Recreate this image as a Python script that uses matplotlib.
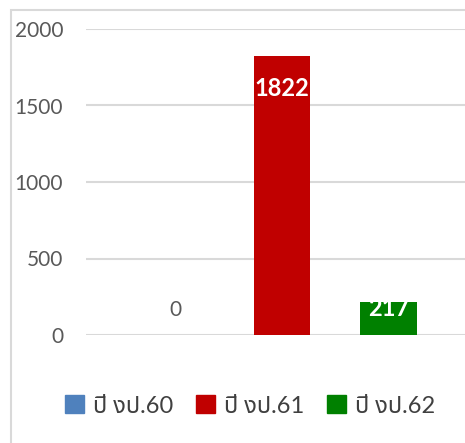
import matplotlib
matplotlib.use("Agg")
import matplotlib.pyplot as plt
from matplotlib.patches import Rectangle
from matplotlib import font_manager
import matplotlib.transforms as mtransforms
import numpy as np

series = ["ปี งป.60", "ปี งป.61", "ปี งป.62"]
values = [0, 1822, 217]
colors = ["#4f81bd", "#c00000", "#008000"]
yticks = [0, 500, 1000, 1500, 2000]

installed = {f.name for f in font_manager.fontManager.ttflist}
thai = [f for f in ['Noto Sans Thai UI', 'Noto Sans Thai', 'IBM Plex Sans Thai', 'Kanit']
        if f in installed]
plt.rcParams['font.family'] = ['Lato'] + thai + ['DejaVu Sans']

W, H = 465, 443
fig = plt.figure(figsize=(W/100, H/100), dpi=100)
fig.patches.append(Rectangle((11/W, -0.1), 1.2, (H-10)/H + 0.1, transform=fig.transFigure,
                             fill=False, edgecolor="#d9d9d9", linewidth=1.5))

ax = fig.add_axes([86/W, (H-335)/H, (478-86)/W, (335-29)/H])
x = np.arange(len(series))
bars = ax.bar(x, values, width=0.53, color=colors, zorder=3)
ax.set_xlim(-0.84, 2.84)
ax.set_ylim(0, 2000)
ax.set_yticks(yticks)
ax.set_yticklabels([str(t) for t in yticks], color="#595959", fontsize=15)
ax.tick_params(axis='y', length=0, pad=16.5)
ax.set_xticks([])
for s in ax.spines.values():
    s.set_visible(False)
ax.yaxis.grid(True, color="#d9d9d9", linewidth=1.5, zorder=0)
ax.set_axisbelow(True)

# label vertical offsets from bar top, in pixels (style only)
label_offsets_px = [25, -32, -7]
for xi, v, off, b in zip(x, values, label_offsets_px, bars):
    tr = ax.transData + mtransforms.ScaledTranslation(0, off / 100, fig.dpi_scale_trans)
    if v == 0:
        ax.text(xi, v, str(v), ha='center', va='center', color="#595959",
                fontsize=15, transform=tr)
    else:
        t = ax.text(xi, v, str(v), ha='center', va='center', color="white",
                    fontsize=17, fontweight='bold', zorder=4, transform=tr)
        if off > -15:
            t.set_clip_path(b)

handles = [Rectangle((0, 0), 1, 1, color=c) for c in colors]
fig.legend(handles, series, loc='center', bbox_to_anchor=(250/W, (H-406)/H), ncol=3,
           frameon=False, fontsize=17, handlelength=0.8, handleheight=0.8,
           handletextpad=0.35, columnspacing=1.0, labelcolor="#404040")

fig.savefig("out.png", dpi=100)
